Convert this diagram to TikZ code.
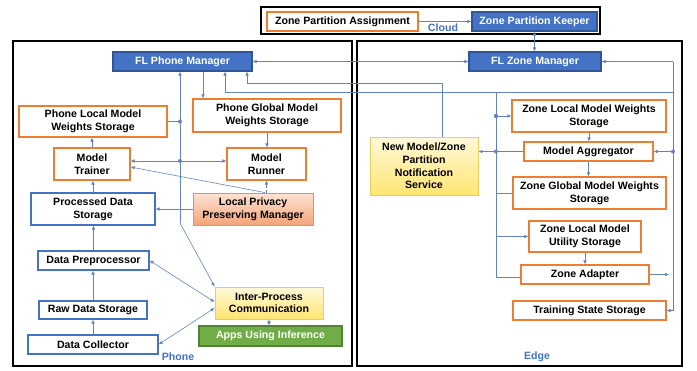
\documentclass[tikz,border=0pt]{standalone}
\usepackage{fontspec}
\setmainfont{Liberation Sans}
\usetikzlibrary{arrows.meta}

\definecolor{fblue}{RGB}{68,114,196}
\definecolor{dblue}{RGB}{47,85,151}
\definecolor{forange}{RGB}{237,125,49}
\definecolor{fgreen}{RGB}{112,173,71}
\definecolor{dgreen}{RGB}{84,130,53}
\definecolor{linec}{RGB}{98,130,192}
\definecolor{ylight}{RGB}{255,249,218}
\definecolor{ydark}{RGB}{255,229,112}
\definecolor{yedge}{RGB}{234,204,96}
\definecolor{slight}{RGB}{252,228,212}
\definecolor{sdark}{RGB}{244,164,120}
\definecolor{sedge}{RGB}{232,142,98}

\tikzset{
  box/.style={draw, line width=1.1pt, align=center, inner sep=1pt,
    font=\fontsize{10.6}{12.6}\selectfont\bfseries},
  obox/.style={box, draw=forange, fill=white},
  bbox/.style={box, draw=fblue, fill=white},
  mgr/.style={box, draw=dblue, fill=fblue, text=white},
  ybox/.style={box, draw=yedge, line width=0.8pt, top color=ylight, bottom color=ydark},
  sbox/.style={box, draw=sedge, line width=0.8pt, top color=slight, bottom color=sdark},
  gbox/.style={box, draw=dgreen, fill=fgreen, text=white},
  zone/.style={draw=black, line width=1.3pt},
  zlbl/.style={text=fblue, font=\fontsize{10.6}{12.6}\selectfont\bfseries},
  conn/.style={draw=linec, line width=0.6pt},
  jdot/.style={fill=linec},
}

\begin{document}
\begin{tikzpicture}[x=1pt, y=-1pt, >={Latex[length=4pt,width=3.5pt]}]
  \useasboundingbox (0,0) rectangle (697,370);

  % zones
  \draw[zone] (261,7) rectangle (600,34);
  \draw[zone] (13,41) rectangle (352,366);
  \draw[zone] (357,41) rectangle (682,366);
  \node[zlbl] (cloudlbl) at (443,28) {Cloud};
  \node[zlbl] (phonelbl) at (178,357) {Phone};
  \node[zlbl] (edgelbl) at (537,357) {Edge};

  % cloud
  \node[obox, minimum width=151pt, minimum height=19pt] (zpa) at (342.5,21.5)
    {Zone Partition Assignment};
  \node[mgr, minimum width=125pt, minimum height=19pt] (zpk) at (534.5,21.5)
    {Zone Partition Keeper};

  % phone
  \node[mgr, minimum width=139pt, minimum height=19pt] (flpm) at (182.5,61.5)
    {FL Phone Manager};
  \node[obox, minimum width=148pt, minimum height=31pt] (plmws) at (93,121.5)
    {Phone Local Model\\Weights Storage};
  \node[obox, minimum width=148pt, minimum height=33pt] (pgmws) at (267,115.5)
    {Phone Global Model\\Weights Storage};
  \node[obox, minimum width=76pt, minimum height=32pt] (trainer) at (92,164)
    {Model\\Trainer};
  \node[obox, minimum width=79pt, minimum height=32pt] (runner) at (266.5,164)
    {Model\\Runner};
  \node[bbox, minimum width=124pt, minimum height=32pt] (pds) at (93,209)
    {Processed Data\\Storage};
  \node[sbox, minimum width=120pt, minimum height=32pt] (lppm) at (253,209)
    {Local Privacy\\Preserving Manager};
  \node[bbox, minimum width=111pt, minimum height=19pt] (dpre) at (93.5,260.5)
    {Data Preprocessor};
  \node[bbox, minimum width=108pt, minimum height=18pt] (raw) at (93,310)
    {Raw Data Storage};
  \node[bbox, minimum width=130pt, minimum height=19pt] (dcol) at (93,344.5)
    {Data Collector};
  \node[ybox, minimum width=108pt, minimum height=32pt] (ipc) at (269,303)
    {Inter-Process\\Communication};
  \node[gbox, minimum width=143pt, minimum height=20pt] (apps) at (270.5,336)
    {Apps Using Inference};

  % edge
  \node[mgr, minimum width=132pt, minimum height=19pt] (flzm) at (535,61.5)
    {FL Zone Manager};
  \node[ybox, minimum width=108pt, minimum height=58pt] (nms) at (424,166)
    {New Model/Zone\\Partition\\Notification\\Service};
  \node[obox, minimum width=154pt, minimum height=32pt] (zlmws) at (589,116)
    {Zone Local Model Weights\\Storage};
  \node[obox, minimum width=129pt, minimum height=19pt] (magg) at (588.5,151.5)
    {Model Aggregator};
  \node[obox, minimum width=153pt, minimum height=32pt] (zgmws) at (589.5,193)
    {Zone Global Model Weights\\Storage};
  \node[obox, minimum width=112pt, minimum height=31pt] (zlmus) at (585,236.5)
    {Zone Local Model\\Utility Storage};
  \node[obox, minimum width=128pt, minimum height=19pt] (zad) at (585,274.5)
    {Zone Adapter};
  \node[obox, minimum width=153pt, minimum height=19pt] (tss) at (589.5,310.5)
    {Training State Storage};

  % junctions
  \coordinate (pbus) at (180,223);
  \coordinate (pmid) at (180,161);
  \coordinate (nmsup) at (442,83);
  \coordinate (rbus) at (673,61.5);
  \coordinate (rtop) at (673,92);
  \coordinate (lbus) at (496,92);

  % cloud links
  \draw[conn,->] (zpa) -- (zpk);
  \draw[conn,<->] (zpk.south) -- (zpk.south |- flzm.north);
  \draw[conn,<->] (flpm.east) -- (flzm.west);

  % phone links
  \draw[conn,->] ([xshift=20.5pt]flpm.south) -- ([xshift=20.5pt]flpm.south |- pgmws.north);
  \draw[conn,->] (pgmws.south) -- (pgmws.south |- runner.north);
  \draw[conn,->] (trainer.north) -- (trainer.north |- plmws.south);
  \draw[conn,->] (pds.north) -- (pds.north |- trainer.south);
  \draw[conn,->] (dpre.north) -- (dpre.north |- pds.south);
  \draw[conn,->] (raw.north) -- (raw.north |- dpre.south);
  \draw[conn,->] (dcol.north) -- (dcol.north |- raw.south);
  \draw[conn,->] (lppm.west) -- (pds.east);
  \draw[conn,->, densely dashed] (runner.south |- lppm.north) -- (runner.south);
  \draw[conn,->] ([xshift=12pt]lppm.north) -- ([yshift=-3pt]trainer.east);
  \draw[conn,<->] ([yshift=3pt]trainer.east) -- ([yshift=3pt]runner.west);
  \draw[conn,->] (pbus) -- (pbus |- flpm.south);
  \draw[conn,->] (pbus) -- (ipc.north west);
  \draw[conn] (plmws.east) -- (plmws.east -| pbus);
  \fill[jdot] (plmws.east -| pbus) circle (2pt);
  \fill[jdot] (pmid) circle (2pt);
  \draw[conn,<->] (dpre.east) -- ([yshift=1pt]ipc.west);
  \draw[conn,<->] (dcol.east) -- ([yshift=-5pt]ipc.west);
  \draw[conn,<->] (ipc.south) -- (ipc.south |- apps.north);

  % edge to phone
  \draw[conn,->] ([xshift=18pt]nms.north) -- (nmsup) -| ([xshift=64.5pt]flpm.south);
  \draw[conn,->] (rtop) -| ([xshift=42.5pt]flpm.south);

  % edge right bus
  \draw[conn,->] (rbus) -- (flzm.east);
  \draw[conn,->] (rbus) |- (tss.east);
  \draw[conn,->] (magg.east -| rbus) -- (magg.east);
  \fill[jdot] (magg.east -| rbus) circle (2pt);
  \draw[conn,->] (zad.east) -- ([xshift=-4pt]zad.east -| rbus);

  % edge left bus
  \draw[conn] (lbus) |- ([yshift=-2.5pt]zad.west);
  \draw[conn,->] (zlmws.west -| lbus) -- (zlmws.west);
  \fill[jdot] (zlmws.west -| lbus) circle (2.2pt);
  \draw[conn,->] (magg.west) -- (magg.west -| nms.east);
  \fill[jdot] (magg.west -| lbus) circle (2pt);
  \draw[conn] (zgmws.west) -- (zgmws.west -| lbus);
  \draw[conn,->] (zlmus.west -| lbus) -- (zlmus.west);

  % edge vertical flow
  \draw[conn,->] (zlmws.south) -- (zlmws.south |- magg.north);
  \draw[conn,->] (magg.south) -- (magg.south |- zgmws.north);
  \draw[conn,->] (zlmus.south) -- (zlmus.south |- zad.north);
\end{tikzpicture}
\end{document}
